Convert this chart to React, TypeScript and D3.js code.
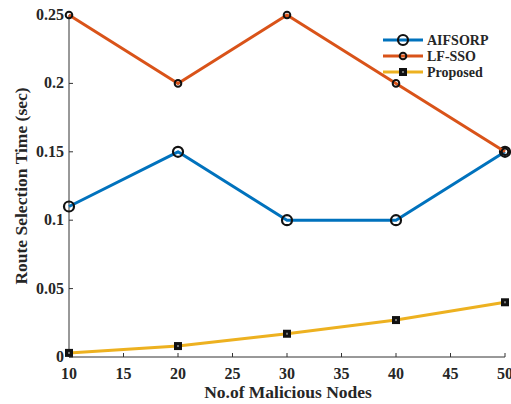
import React from 'react'
import * as d3 from 'd3'

const nodes = [10, 20, 30, 40, 50]
const aifsorp = [0.11, 0.15, 0.1, 0.1, 0.15]
const lfsso = [0.25, 0.2, 0.25, 0.2, 0.15]
const proposed = [0.003, 0.008, 0.017, 0.027, 0.04]
const xTicks = [10, 15, 20, 25, 30, 35, 40, 45, 50]
const yTicks = [0, 0.05, 0.1, 0.15, 0.2, 0.25]

const W = 511
const H = 404
const font = '"Liberation Serif", "Times New Roman", serif'

const App = () => {
    const x = d3.scaleLinear().domain([10, 50]).range([69, 505])
    const y = d3.scaleLinear().domain([0, 0.25]).range([357, 15])

    const line = d3.line<number>()
        .x((d, i) => x(nodes[i]))
        .y(d => y(d))

    const series = [
        { name: 'AIFSORP', values: aifsorp, color: '#0072BD', marker: 'bigCircle' },
        { name: 'LF-SSO', values: lfsso, color: '#D95319', marker: 'smallCircle' },
        { name: 'Proposed', values: proposed, color: '#EDB120', marker: 'square' },
    ]

    const drawMarker = (m: string, cx: number, cy: number, key: string) => {
        if (m === 'bigCircle') return <circle key={key} cx={cx} cy={cy} r={5} fill="none" stroke="#111" strokeWidth={2.2} />
        if (m === 'smallCircle') return <circle key={key} cx={cx} cy={cy} r={3.3} fill="none" stroke="#111" strokeWidth={2} />
        return (
            <g key={key}>
                <rect x={cx - 4} y={cy - 4} width={8} height={8} fill="#111" />
                <rect x={cx - 1} y={cy - 1} width={2} height={2} fill="#777" />
            </g>
        )
    }

    return (
        <div style={{ position: 'absolute', left: 0, top: 0 }}>
            <svg width={W} height={H} style={{ display: 'block', background: '#fff' }} fontFamily={font} fontWeight="bold">
                {/* axes */}
                <line x1={x(10)} x2={x(50)} y1={y(0)} y2={y(0)} stroke="#333" strokeWidth={1} />
                <line x1={x(10)} x2={x(10)} y1={y(0)} y2={y(0.25)} stroke="#333" strokeWidth={1} />
                {xTicks.map(t => (
                    <g key={'x' + t}>
                        <line x1={x(t)} x2={x(t)} y1={y(0)} y2={y(0) - 4} stroke="#333" />
                        <text x={x(t)} y={y(0) + 22} textAnchor="middle" fontSize={16} fill="#262626">{t}</text>
                    </g>
                ))}
                {yTicks.map(t => (
                    <g key={'y' + t}>
                        <line x1={x(10)} x2={x(10) + 4} y1={y(t)} y2={y(t)} stroke="#333" />
                        <text x={x(10) - 5} y={y(t) + 5} textAnchor="end" fontSize={16} fill="#262626">{t}</text>
                    </g>
                ))}
                <text x={288} y={398} textAnchor="middle" fontSize={17.5} fill="#262626">No.of Malicious Nodes</text>
                <text transform={`translate(27,${y(0.125)}) rotate(-90)`} textAnchor="middle" fontSize={17.5} fill="#262626">Route Selection Time (sec)</text>

                {/* lines */}
                {series.map(s => (
                    <g key={s.name}>
                        <path d={line(s.values) || ''} fill="none" stroke={s.color} strokeWidth={3} strokeLinejoin="round" />
                        {s.values.map((v, i) => drawMarker(s.marker, x(nodes[i]), y(v), s.name + i))}
                    </g>
                ))}

                {/* legend */}
                {series.map((s, i) => {
                    const ly = 40 + i * 16
                    return (
                        <g key={'l' + s.name}>
                            <line x1={383} x2={423} y1={ly} y2={ly} stroke={s.color} strokeWidth={3} />
                            {drawMarker(s.marker, 403, ly, 'lm' + i)}
                            <text x={427} y={ly + 5} fontSize={14} fill="#262626">{s.name}</text>
                        </g>
                    )
                })}
            </svg>
        </div>
    )
}

export default App
